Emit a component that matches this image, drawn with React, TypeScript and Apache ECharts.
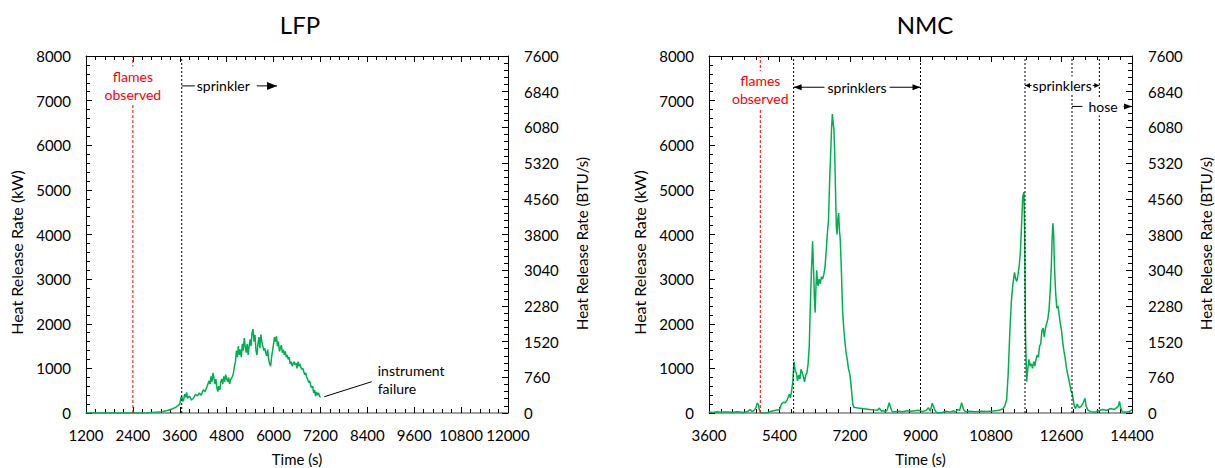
import React, { useEffect, useRef } from "react";
import * as echarts from "echarts";

// ---------- data ----------
const LFP_T = [1200, 1500, 1800, 2100, 2400, 2600, 2800, 2900, 3000, 3100, 3200, 3300, 3400, 3450, 3500, 3550, 3600, 3625, 3650, 3675, 3700, 3725, 3750, 3775, 3800, 3850, 3900, 3950, 4000, 4050, 4100, 4150, 4200, 4250, 4300, 4350, 4375, 4400, 4425, 4450, 4475, 4500, 4525, 4550, 4575, 4600, 4625, 4650, 4675, 4700, 4725, 4750, 4775, 4800, 4825, 4850, 4875, 4900, 4925, 4950, 4975, 5000, 5025, 5050, 5075, 5100, 5125, 5150, 5175, 5200, 5225, 5250, 5275, 5300, 5325, 5350, 5375, 5400, 5425, 5450, 5475, 5500, 5525, 5550, 5575, 5600, 5625, 5650, 5675, 5700, 5725, 5750, 5775, 5800, 5825, 5850, 5875, 5900, 5925, 5950, 5975, 6000, 6025, 6050, 6075, 6100, 6125, 6150, 6175, 6200, 6225, 6250, 6275, 6300, 6325, 6350, 6375, 6400, 6425, 6450, 6475, 6500, 6525, 6550, 6575, 6600, 6625, 6650, 6675, 6700, 6725, 6750, 6775, 6800, 6825, 6850, 6875, 6900, 6925, 6950, 6975, 7000, 7025, 7050, 7075, 7100, 7125, 7150, 7175, 7200];
const LFP_V = [0, 0, 0, 0, 0, 0, 5, 10, 15, 20, 40, 60, 90, 110, 130, 160, 200, 330, 380, 260, 300, 420, 350, 460, 330, 380, 290, 330, 420, 380, 450, 400, 520, 480, 600, 720, 650, 820, 700, 900, 780, 650, 760, 560, 480, 600, 520, 700, 760, 650, 820, 700, 860, 760, 700, 800, 650, 740, 780, 820, 900, 1050, 1150, 1400, 1250, 1500, 1300, 1420, 1250, 1550, 1400, 1680, 1500, 1350, 1550, 1300, 1500, 1650, 1500, 1800, 1880, 1600, 1750, 1400, 1300, 1550, 1700, 1450, 1760, 1600, 1500, 1400, 1450, 1350, 1280, 1420, 1200, 1100, 1050, 1250, 1400, 1550, 1700, 1600, 1720, 1500, 1600, 1380, 1450, 1520, 1350, 1420, 1300, 1380, 1250, 1300, 1200, 1250, 1100, 1150, 1050, 1100, 1150, 1080, 1120, 1000, 1150, 1050, 1100, 1020, 980, 1000, 920, 860, 900, 800, 760, 680, 720, 620, 560, 600, 450, 520, 380, 470, 400, 450, 380, 350];

const NMC_T = [3600, 3700, 3800, 3900, 4000, 4100, 4200, 4300, 4400, 4500, 4600, 4650, 4700, 4750, 4800, 4830, 4860, 4890, 4920, 5000, 5100, 5200, 5300, 5400, 5450, 5500, 5550, 5600, 5650, 5680, 5710, 5740, 5770, 5800, 5830, 5860, 5890, 5920, 5950, 5980, 6010, 6040, 6070, 6100, 6130, 6160, 6190, 6220, 6245, 6270, 6290, 6310, 6330, 6350, 6370, 6390, 6410, 6440, 6470, 6500, 6530, 6560, 6590, 6620, 6650, 6680, 6710, 6730, 6750, 6770, 6790, 6810, 6830, 6850, 6870, 6890, 6910, 6930, 6950, 6980, 7010, 7040, 7070, 7100, 7130, 7160, 7200, 7240, 7270, 7300, 7400, 7500, 7600, 7700, 7800, 7900, 7950, 8000, 8050, 8100, 8150, 8200, 8240, 8280, 8350, 8450, 8550, 8650, 8750, 8850, 8950, 9050, 9150, 9200, 9250, 9300, 9350, 9400, 9450, 9550, 9650, 9750, 9850, 9900, 9950, 10000, 10050, 10100, 10150, 10250, 10400, 10550, 10700, 10850, 11000, 11100, 11150, 11200, 11240, 11280, 11320, 11360, 11400, 11430, 11460, 11490, 11520, 11550, 11580, 11610, 11640, 11660, 11680, 11710, 11740, 11770, 11800, 11830, 11860, 11890, 11920, 11950, 11980, 12010, 12040, 12070, 12100, 12130, 12160, 12190, 12220, 12250, 12280, 12310, 12340, 12360, 12380, 12400, 12420, 12450, 12480, 12510, 12540, 12570, 12600, 12630, 12660, 12690, 12720, 12750, 12780, 12810, 12840, 12870, 12900, 12930, 12960, 13000, 13050, 13100, 13150, 13200, 13230, 13280, 13350, 13450, 13550, 13650, 13750, 13850, 13950, 14050, 14080, 14110, 14150, 14250, 14350, 14400];
const NMC_V = [20, 10, 30, 15, 25, 20, 10, 30, 20, 10, 40, 80, 30, 60, 120, 220, 200, 60, 10, 0, 10, 40, 60, 80, 200, 240, 230, 300, 420, 340, 500, 700, 1150, 950, 900, 720, 850, 760, 980, 900, 820, 700, 850, 900, 1100, 1500, 2500, 3300, 3850, 3200, 2600, 2250, 2800, 3200, 2900, 2850, 3000, 2900, 3050, 3000, 3100, 3250, 3600, 4000, 4300, 5200, 5900, 6400, 6700, 6500, 6350, 5800, 5000, 4200, 4000, 4350, 4480, 4100, 3900, 3200, 2300, 1900, 1600, 1350, 1200, 1000, 850, 500, 200, 130, 110, 100, 90, 80, 70, 60, 110, 40, 60, 20, 70, 230, 120, 20, 30, 40, 30, 50, 40, 50, 60, 30, 60, 120, 40, 220, 100, 20, 0, 10, 40, 20, 50, 20, 80, 60, 230, 80, 30, 40, 30, 40, 35, 45, 60, 90, 150, 300, 900, 1800, 2500, 2900, 3150, 3000, 2950, 3100, 3300, 3600, 4200, 4850, 4950, 4000, 1800, 700, 1000, 1200, 1050, 1100, 1000, 1150, 1050, 1200, 1300, 1250, 1500, 1550, 1850, 1900, 1700, 1900, 2000, 2100, 2300, 2700, 3300, 3900, 4250, 4000, 3300, 2700, 2350, 2400, 2200, 2000, 1850, 1600, 1400, 1250, 1050, 900, 780, 650, 500, 450, 300, 150, 100, 200, 120, 150, 220, 330, 150, 60, 30, 20, 50, 80, 60, 100, 80, 150, 260, 120, 30, 20, 40, 80];

const LFP_FLAMES = 2400;
const LFP_SPRINKLER = 3650;
const NMC_FLAMES = 4910;
const NMC_EVENTS = [5760, 9000, 11668, 12868, 13566];

const LFP_X = { min: 1200, max: 12000, interval: 1200, minor: 5 };
const NMC_X = { min: 3600, max: 14400, interval: 1800, minor: 6 };
const KW = { min: 0, max: 8000, interval: 1000 };
const BTU = { min: 0, max: 7600, interval: 760 };

const FONT = "Lato, 'Open Sans', sans-serif";
const GREEN = "#00B050";
const plain = (v: number) => String(v);

function xAxis(gridIndex: number, r: any, position: "top" | "bottom") {
  const bottom = position === "bottom";
  return {
    type: "value",
    gridIndex,
    position,
    min: r.min,
    max: r.max,
    interval: r.interval,
    name: bottom ? "Time (s)" : "",
    nameLocation: "middle",
    nameGap: 38,
    nameTextStyle: { fontFamily: FONT, fontSize: 15, lineHeight: 16, color: "#000" },
    axisLine: { show: true, onZero: false, lineStyle: { color: bottom ? "#808080" : "#000", width: bottom ? 1.5 : 1 } },
    axisTick: { show: true, inside: true, length: 6, lineStyle: { color: "#000" } },
    minorTick: { show: true, splitNumber: r.minor, length: 4, lineStyle: { color: "#000" } },
    axisLabel: { show: bottom, fontFamily: FONT, fontSize: 15, color: "#000", margin: 14, formatter: plain },
    splitLine: { show: false },
    minorSplitLine: { show: false },
  };
}

function yAxis(gridIndex: number, r: any, position: "left" | "right") {
  const left = position === "left";
  return {
    type: "value",
    gridIndex,
    position,
    min: r.min,
    max: r.max,
    interval: r.interval,
    name: left ? "Heat Release Rate (kW)" : "Heat Release Rate (BTU/s)",
    nameLocation: "middle",
    nameRotate: 90,
    nameGap: left ? 62 : 66,
    nameTextStyle: { fontFamily: FONT, fontSize: left ? 16 : 15, lineHeight: 16, color: "#000", padding: left ? [0, 36, 0, 0] : [0, 18, 0, 0] },
    axisLine: { show: true, onZero: false, lineStyle: { color: "#000", width: 1 } },
    axisTick: { show: true, inside: true, length: 6, lineStyle: { color: "#000" } },
    minorTick: { show: true, splitNumber: 5, length: 4, lineStyle: { color: "#000" } },
    axisLabel: { show: true, fontFamily: FONT, fontSize: 15, color: "#000", margin: left ? 15 : 16, formatter: plain },
    splitLine: { show: false },
    minorSplitLine: { show: false },
  };
}

export default function App() {
  const ref = useRef<HTMLDivElement>(null);
  useEffect(() => {
    if (!ref.current) return;
    const chart = echarts.init(ref.current, undefined, { renderer: "svg" });
    const lfpData = LFP_T.map((t, i) => [t, LFP_V[i]]);
    const nmcData = NMC_T.map((t, i) => [t, NMC_V[i]]);
    chart.setOption({
      animation: false,
      backgroundColor: "#fff",
      grid: [
        { left: 86, top: 56, width: 422, height: 357, outerBoundsMode: "none", containLabel: false },
        { left: 709, top: 56, width: 423, height: 357, outerBoundsMode: "none", containLabel: false },
      ],
      xAxis: [xAxis(0, LFP_X, "bottom"), xAxis(0, LFP_X, "top"), xAxis(1, NMC_X, "bottom"), xAxis(1, NMC_X, "top")],
      yAxis: [yAxis(0, KW, "left"), yAxis(0, BTU, "right"), yAxis(1, KW, "left"), yAxis(1, BTU, "right")],
      series: [
        { type: "line", xAxisIndex: 0, yAxisIndex: 0, data: lfpData, showSymbol: false, lineStyle: { color: GREEN, width: 1.5 }, z: 3 },
        { type: "line", xAxisIndex: 2, yAxisIndex: 2, data: nmcData, showSymbol: false, lineStyle: { color: GREEN, width: 1.5 }, z: 3 },
      ],
    });

    const P = (s: number, t: number, v: number) => chart.convertToPixel({ seriesIndex: s }, [t, v]) as number[];
    const g: any[] = [];
    const text = (x: number, y: number, s: string, o: any = {}) =>
      g.push({
        type: "text",
        x,
        y,
        z: 110,
        style: {
          text: s,
          fill: o.fill || "#000",
          fontFamily: FONT,
          fontSize: o.fontSize || 14,
          align: o.align || "center",
          verticalAlign: "middle",
          lineHeight: o.lineHeight || 18,
          backgroundColor: o.bg === false ? undefined : "#fff",
          padding: o.padding || [0, 0],
        },
      });
    const line = (x1: number, y1: number, x2: number, y2: number) =>
      g.push({ type: "line", z: 105, shape: { x1, y1, x2, y2 }, style: { stroke: "#000", lineWidth: 1 } });
    const head = (x: number, y: number, dir: number, len = 9, hw = 3.5) =>
      g.push({ type: "polygon", z: 106, shape: { points: [[x, y], [x - dir * len, y - hw], [x - dir * len, y + hw]] }, style: { fill: "#000" } });
    const vline = (s: number, t: number, color: string, dash: number[]) => {
      const a = P(s, t, KW.min);
      const b = P(s, t, KW.max);
      g.push({ type: "line", z: 104, shape: { x1: a[0], y1: a[1], x2: b[0], y2: b[1] }, style: { stroke: color, lineWidth: 1, lineDash: dash } });
    };

    // event lines
    vline(0, LFP_FLAMES, "#FF0000", [3, 2]);
    vline(0, LFP_SPRINKLER, "#000000", [2, 2]);
    vline(1, NMC_FLAMES, "#FF0000", [3, 2]);
    NMC_EVENTS.forEach((t) => vline(1, t, "#000000", [2, 2]));

    // titles
    g.push({ type: "text", x: 300, y: 24, z: 110, style: { text: "LFP", fontFamily: FONT, fontSize: 24, fill: "#000", align: "center", verticalAlign: "middle" } });
    g.push({ type: "text", x: 925, y: 24, z: 110, style: { text: "NMC", fontFamily: FONT, fontSize: 24, fill: "#000", align: "center", verticalAlign: "middle" } });

    // LFP annotations
    const lf = P(0, LFP_FLAMES, 7340);
    text(lf[0], lf[1], "flames\nobserved", { fill: "#FF0000", padding: [1, 2] });
    const ls = P(0, LFP_SPRINKLER, 7330);
    const lsEnd = P(0, 6090, 7330);
    line(ls[0], ls[1], lsEnd[0], lsEnd[1]);
    head(lsEnd[0], lsEnd[1], 1, 10, 4);
    text(ls[0] + 13, ls[1], "sprinkler", { align: "left", padding: [0, 7, 0, 2] });
    const fa = P(0, 7299, 365);
    const fb = P(0, 8513, 702);
    line(fa[0], fa[1], fb[0], fb[1]);
    const ft = P(0, 8666, 751);
    text(ft[0], ft[1], "instrument\nfailure", { align: "left", bg: false });

    // NMC annotations
    const nf = P(1, NMC_FLAMES, 7240);
    text(nf[0], nf[1], "flames\nobserved", { fill: "#FF0000", padding: [1, 2] });
    const s1a = P(1, NMC_EVENTS[0], 7300);
    const s1b = P(1, NMC_EVENTS[1], 7300);
    line(s1a[0], s1a[1], s1b[0], s1b[1]);
    head(s1a[0], s1a[1], -1, 8, 3);
    head(s1b[0], s1b[1], 1, 8, 3);
    text((s1a[0] + s1b[0]) / 2, s1a[1], "sprinklers", { padding: [0, 3] });
    const s2a = P(1, NMC_EVENTS[2], 7340);
    const s2b = P(1, NMC_EVENTS[4], 7340);
    line(s2a[0], s2a[1], s2b[0], s2b[1]);
    head(s2a[0], s2a[1], -1, 5, 2.5);
    head(s2b[0], s2b[1], 1, 5, 2.5);
    text((s2a[0] + s2b[0]) / 2, s2a[1], "sprinklers", { padding: [0, 1] });
    const ha = P(1, NMC_EVENTS[3], 6870);
    const hb = P(1, NMC_X.max, 6870);
    line(ha[0], ha[1], hb[0], hb[1]);
    head(hb[0], hb[1], 1, 8, 3);
    text((ha[0] + hb[0]) / 2 + 1, ha[1], "hose", { padding: [0, 6] });

    chart.setOption({ graphic: g });
    return () => chart.dispose();
  }, []);
  return <div ref={ref} style={{ position: "absolute", left: 0, top: 0, width: 1215, height: 468 }} />;
}
